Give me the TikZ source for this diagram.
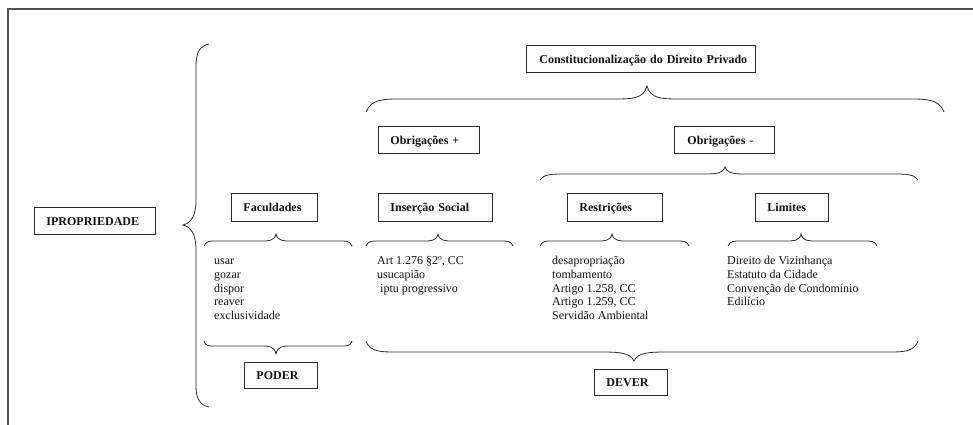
\documentclass[tikz,border=0pt]{standalone}
\usepackage{fontspec}
\setmainfont{Liberation Serif}
\definecolor{linec}{HTML}{2A2A2A}
\definecolor{txtc}{HTML}{111111}
\definecolor{framec}{HTML}{505050}
\newcommand\mybrace[8]{% x1, x2, xtip, yend, yflat, ytip, rend, rtip
  \draw[brc] (#1,#4) .. controls (#1+0.15*#7,#5) and (#1+0.5*#7,#5) .. (#1+#7,#5)
    -- (#3-#8,#5) .. controls (#3-0.5*#8,#5) and (#3-0.1*#8,#5) .. (#3,#6)
    .. controls (#3+0.1*#8,#5) and (#3+0.5*#8,#5) .. (#3+#8,#5)
    -- (#2-#7,#5) .. controls (#2-0.5*#7,#5) and (#2-0.15*#7,#5) .. (#2,#4);}
\begin{document}
\begin{tikzpicture}[x=1pt,y=-1pt,
  box/.style={draw=linec, line width=0.9pt, anchor=north west, inner xsep=12pt, inner ysep=0pt,
    align=left, text height=8.3pt, text depth=0pt, text=txtc,
    font=\fontsize{12}{14}\selectfont\bfseries},
  lst/.style={anchor=north west, inner sep=0pt, align=left, text=txtc,
    font=\fontsize{12}{13.9}\selectfont},
  brc/.style={draw=linec, line width=0.8pt},
  frm/.style={draw=framec, line width=1.4pt}]
\useasboundingbox (0,0) rectangle (973,425);
% frame
\draw[frm] (973,9) -- (8,9) -- (8,425);
% boxes
\node[box, text width=97pt, minimum height=27pt] (prop) at (34,207) {IPROPRIEDADE};
\node[box, text width=62pt, minimum height=28pt] (fac) at (231,193) {Faculdades};
\node[box, text width=90pt, minimum height=28pt] (ins) at (378,193) {\mbox{Inserção Social}};
\node[box, text width=77pt, minimum height=27pt, inner xsep=12pt] (obp) at (378,126) {\mbox{Obrigações +}};
\node[box, text width=203pt, minimum height=27pt, inner xsep=13pt] (con) at (526,45) {\mbox{Constitucionalização do Direito Privado}};
\node[box, text width=74pt, minimum height=27pt, inner xsep=13pt] (obm) at (674,126) {\mbox{Obrigações -}};
\node[box, text width=71pt, minimum height=28pt] (res) at (567,193) {Restrições};
\node[box, text width=49pt, minimum height=28pt] (lim) at (755,193) {Limites};
\node[box, text width=49pt, minimum height=26pt] (pod) at (244,362) {PODER};
\node[box, text width=49pt, minimum height=26pt] (dev) at (594,369) {DEVER};
% lists
\node[lst] (flist) at (214,254.3) {\strut usar\\gozar\\dispor\\reaver\\exclusividade};
\node[lst] (ilist) at (377,254.3) {\strut Art 1.276 §2º, CC\\usucapião\\\hspace{3pt}iptu progressivo};
\node[lst] (rlist) at (552,254.3) {\strut desapropriação\\tombamento\\Artigo 1.258, CC\\Artigo 1.259, CC\\Servidão Ambiental};
\node[lst] (llist) at (727,254.3) {\strut Direito de Vizinhança\\Estatuto da Cidade\\Convenção de Condomínio\\Edilício};
% big vertical brace
\draw[brc] (209,44) .. controls (200,46) and (196,52) .. (196,66) -- (196,200)
  .. controls (196,216) and (191,223) .. (183,225)
  .. controls (191,227) and (196,234) .. (196,250) -- (196,386)
  .. controls (196,399) and (200,405) .. (209,407);
% horizontal braces
\mybrace{366}{944}{647}{112}{99}{86}{35}{32}
\mybrace{540}{918}{725}{180}{174}{167}{25}{22}
\mybrace{204}{352}{276}{246}{241}{234}{12}{15}
\mybrace{366}{513}{438}{246}{241}{234}{12}{15}
\mybrace{540}{689}{612}{246}{241}{234}{12}{15}
\mybrace{728}{877}{801}{246}{241}{234}{12}{15}
\mybrace{204}{352}{276}{341}{346}{354}{10}{15}
\mybrace{366}{918}{634}{341.5}{352}{361}{30}{35}
\end{tikzpicture}
\end{document}
